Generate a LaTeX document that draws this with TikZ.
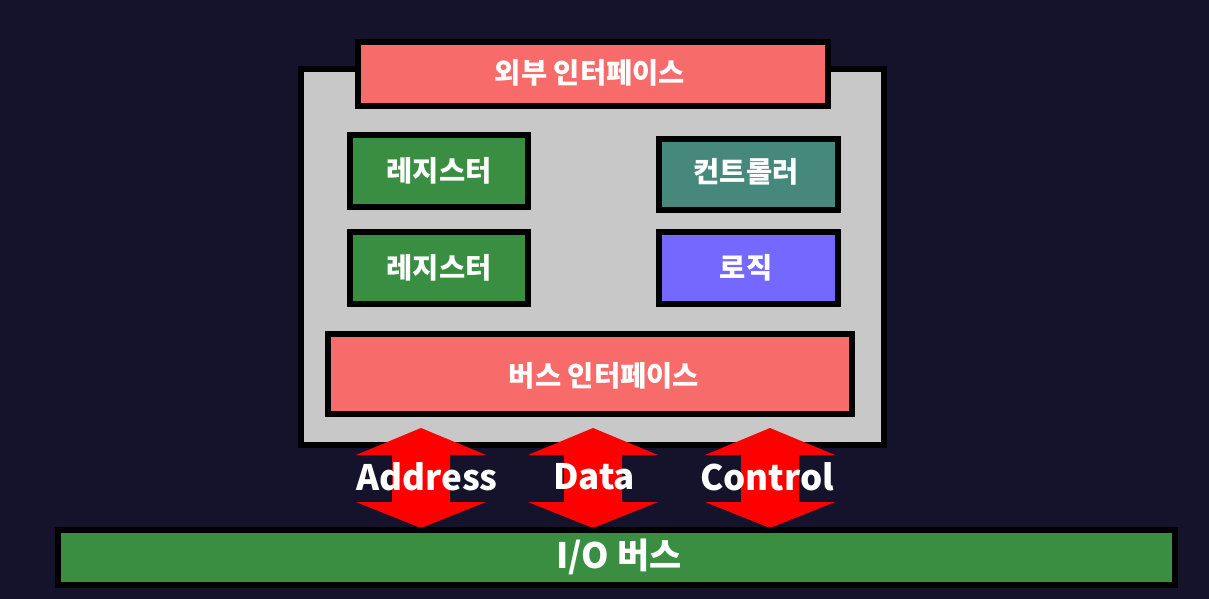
\documentclass[tikz,border=0pt]{standalone}
\usepackage{fontspec}
\setmainfont{Noto Sans CJK KR}
\definecolor{bgc}{HTML}{15122B}
\definecolor{pinkc}{HTML}{F76B6B}
\definecolor{greenc}{HTML}{3A8E42}
\definecolor{tealc}{HTML}{46897C}
\definecolor{purplec}{HTML}{7468FE}
\definecolor{grayc}{HTML}{C8C8C8}
\definecolor{redc}{HTML}{FF0000}
\begin{document}
\begin{tikzpicture}[x=1pt,y=-1pt,
  blk/.style={draw=black,line width=6pt},
  lbl/.style={text=white,font=\fontsize{28.5}{30}\selectfont\bfseries,inner sep=0pt},
  big/.style={text=white,font=\fontsize{35}{37}\selectfont\bfseries,inner sep=0pt},
  darrow/.pic={\fill[redc] (0,0) -- (65,27) -- (29,27) -- (29,74) -- (65,74) -- (0,100) -- (-65,74) -- (-29,74) -- (-29,27) -- (-65,27) -- cycle;}]
\fill[bgc] (0,0) rectangle (1209,599);
\useasboundingbox (0,0) rectangle (1209,599);
% main gray box
\draw[blk,fill=grayc] (300.5,69.5) rectangle (884,444.5);
% top interface
\draw[blk,fill=pinkc] (357.5,42.5) rectangle (828,106.5);
\node[lbl] (ext) at (590,73) {외부 인터페이스};
% registers
\draw[blk,fill=greenc] (350,135) rectangle (528,207);
\node[lbl] (reg1) at (439,171) {레지스터};
\draw[blk,fill=greenc] (350,232) rectangle (528,304);
\node[lbl] (reg2) at (439,268) {레지스터};
% controller, logic
\draw[blk,fill=tealc] (659,139) rectangle (837.5,209.5);
\node[lbl] (ctrl) at (746,172) {컨트롤러};
\draw[blk,fill=purplec] (659,232) rectangle (837.5,304);
\node[lbl] (logic) at (746,268) {로직};
% bus interface
\draw[blk,fill=pinkc] (328,334) rectangle (852,414);
\node[lbl] (busif) at (604,376) {버스 인터페이스};
% arrows
\pic at (421,428) {darrow};
\pic at (593,428) {darrow};
\pic at (770,428) {darrow};
\node[big] (addr) at (427,477) {Address};
\node[big] (data) at (594,477) {Data};
\node[big] (cont) at (767,477) {Control};
% I/O bus
\draw[blk,fill=greenc] (58,530) rectangle (1175,585);
\node[big] (io) at (619,557) {I/O 버스};
\end{tikzpicture}
\end{document}
